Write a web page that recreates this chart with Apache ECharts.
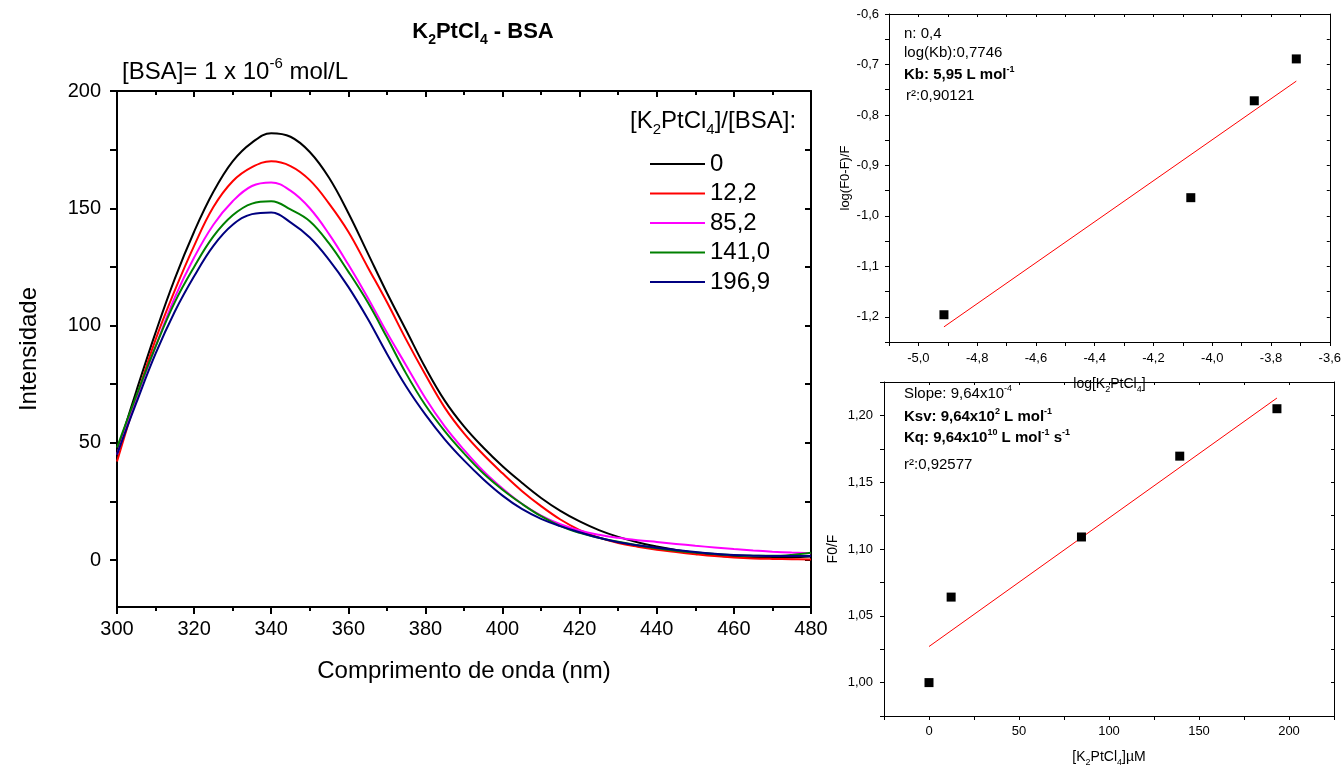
<!DOCTYPE html>
<html><head><meta charset="utf-8">
<script src="https://cdn.jsdelivr.net/npm/echarts@6/dist/echarts.min.js"></script>
<style>html,body{margin:0;padding:0;background:#fff}#c{width:1344px;height:769px}</style>
</head><body><div id="c"></div>
<script>
// ---------- data ----------
const wavelength = [300,305,310,315,320,325,330,335,340,345,350,355,360,365,370,375,380,385,390,395,400,405,410,415,420,425,430,435,440,445,450,455,460,465,470,475,480];
const ratioLabels = ['0','12,2','85,2','141,0','196,9'];
const intensity0    = [46,72,97,120,140,157,170,178,182,180.5,174,163,148,131,114,98,82,68,57,48,40,33,26.5,21,16.5,12.8,9.9,7.6,5.8,4.3,3.1,2.1,1.4,1,0.9,1.1,1.5];
const intensity122  = [42,69,94,115,134,150.5,161.5,167.5,170,168,162,152,140,125,110,94,79,65,54,45,37,29.5,23,17.3,12.8,9.6,7.3,5.7,4.4,3.4,2.5,1.7,1.1,0.7,0.5,0.4,0.3];
const intensity852  = [45,69,91,112,129,143,153,159.5,161,157.5,150,139,126,112,97,83,69,57,47,38,30.5,24,19,15.3,12.6,10.8,9.5,8.5,7.7,6.9,6.1,5.4,4.7,4.1,3.6,3.2,2.9];
const intensity1410 = [48,70,91,110,125,138,147,152,153,149.5,144.5,135,123,110,95,79.5,66,55,45.5,37,30,24,18.7,14.5,11.6,9.5,7.8,6.3,5,4,3.2,2.6,2.1,1.8,1.8,2.2,3.1];
const intensity1969 = [45,67,88,106,121,134,143,147.5,148.2,144,137.5,128,116.5,103,88,74,62,51.5,42.5,34.5,27.5,21.8,17.6,14.5,11.9,9.5,7.6,6.3,5.3,4.3,3.4,2.7,2.2,1.9,1.7,1.7,1.7];
const seriesColors = ['#000000','#ff0000','#ff00ff','#008000','#000080'];

const logConc = [-4.913,-4.073,-3.857,-3.714];
const logQuench = [-1.196,-0.964,-0.772,-0.689];
const fitLogX = [-4.913,-3.714];
const fitLogY = [-1.220,-0.733];

const concUM = [0,12.3,84.7,139.3,193.3];
const f0OverF = [1.000,1.064,1.109,1.1695,1.205];
const fitConcX = [0,193.3];
const fitF0F = [1.027,1.213];

const mainYLabels = [0,50,100,150,200];
const mainYTicks = [0,25,50,75,100,125,150,175,200];

// ---------- helpers ----------
const FONT = "'Liberation Sans', Arial, Helvetica, sans-serif";
function richFor(size, bold, graphic){
  const w = bold ? 'bold' : 'normal';
  const s = Math.round(size*0.62);
  const base = {fontSize:s, lineHeight:Math.round(size*0.8), fontWeight:w, fontFamily:FONT};
  if (graphic) base.fill = '#000'; else base.color = '#000';
  return {sup:Object.assign({verticalAlign:'top'}, base), sub:Object.assign({verticalAlign:'bottom'}, base)};
}
function gText(x, y, text, size, bold, align){
  return {type:'text', x:x, y:y, z:100,
    style:{text:text, fontSize:size, fontWeight:bold?'bold':'normal', fontFamily:FONT, fill:'#000',
      align:align||'left', textAlign:align||'left', verticalAlign:'middle', textVerticalAlign:'middle',
      lineHeight:Math.round(size*1.35), rich:richFor(size,bold,true)}};
}
const comma = (v,d)=>v.toFixed(d).replace('.',',');

// ---------- axes ----------
const xAxes = [], yAxes = [];
// main chart (grid 0)
xAxes.push({gridIndex:0, type:'value', min:300, max:480, interval:20, position:'bottom',
  axisLine:{onZero:false, lineStyle:{color:'#000', width:2}},
  axisTick:{length:7, lineStyle:{color:'#000', width:2}},
  minorTick:{show:true, splitNumber:2, length:4, lineStyle:{color:'#000', width:2}},
  axisLabel:{fontSize:20, color:'#000', fontFamily:FONT, margin:12},
  splitLine:{show:false},
  name:'Comprimento de onda (nm)', nameLocation:'middle', nameGap:52,
  nameTextStyle:{fontSize:24, color:'#000', fontFamily:FONT}});
xAxes.push({gridIndex:0, type:'value', min:300, max:480, interval:20, position:'top',
  axisLine:{onZero:false, lineStyle:{color:'#000', width:2}},
  axisTick:{inside:true, length:6, lineStyle:{color:'#000', width:2}},
  minorTick:{show:true, splitNumber:2, length:4, lineStyle:{color:'#000', width:2}},
  axisLabel:{show:false}, splitLine:{show:false}});
yAxes.push({gridIndex:0, type:'value', min:-20, max:200, position:'left',
  axisLine:{onZero:false, lineStyle:{color:'#000', width:2}},
  axisTick:{length:7, customValues:mainYTicks, lineStyle:{color:'#000', width:2}},
  axisLabel:{customValues:mainYLabels, fontSize:20, color:'#000', fontFamily:FONT, margin:16},
  splitLine:{show:false},
  name:'Intensidade', nameLocation:'middle', nameGap:76,
  nameTextStyle:{fontSize:24, color:'#000', fontFamily:FONT}});
yAxes.push({gridIndex:0, type:'value', min:-20, max:200, position:'right',
  axisLine:{onZero:false, lineStyle:{color:'#000', width:2}},
  axisTick:{inside:true, length:6, customValues:mainYTicks, lineStyle:{color:'#000', width:2}},
  axisLabel:{show:false}, splitLine:{show:false}});

// top-right panel (grid 1)
const tickFmtLog = v => (Math.round(v*10) % 2 === 0) ? comma(v,1) : '';
xAxes.push({gridIndex:1, type:'value', min:-5.1, max:-3.6, interval:0.1, position:'bottom',
  axisLine:{onZero:false, lineStyle:{color:'#000', width:1}},
  axisTick:{length:4, lineStyle:{color:'#000'}},
  axisLabel:{fontSize:13, color:'#000', fontFamily:FONT, margin:10, formatter:tickFmtLog, showMinLabel:true, showMaxLabel:true, hideOverlap:false},
  splitLine:{show:false},
  name:'log[K{sub|2}PtCl{sub|4}]', nameLocation:'middle', nameGap:33,
  nameTextStyle:{fontSize:14, color:'#000', fontFamily:FONT, lineHeight:19, rich:richFor(14,false,false)}});
xAxes.push({gridIndex:1, type:'value', min:-5.1, max:-3.6, interval:0.1, position:'top',
  axisLine:{onZero:false, lineStyle:{color:'#000', width:1}},
  axisTick:{inside:true, length:3, lineStyle:{color:'#000'}},
  axisLabel:{show:false}, splitLine:{show:false}});
yAxes.push({gridIndex:1, type:'value', min:-1.25, max:-0.6, interval:0.05, position:'left',
  axisLine:{onZero:false, lineStyle:{color:'#000', width:1}},
  axisTick:{length:4, lineStyle:{color:'#000'}},
  axisLabel:{fontSize:13, color:'#000', fontFamily:FONT, margin:10, showMinLabel:true, showMaxLabel:true,
    formatter: v => (Math.round(v*100) % 10 === 0) ? comma(v,1) : ''},
  splitLine:{show:false},
  name:'log(F0-F)/F', nameLocation:'middle', nameGap:37,
  nameTextStyle:{fontSize:13, color:'#000', fontFamily:FONT}});
yAxes.push({gridIndex:1, type:'value', min:-1.25, max:-0.6, interval:0.05, position:'right',
  axisLine:{onZero:false, lineStyle:{color:'#000', width:1}},
  axisTick:{inside:true, length:3, lineStyle:{color:'#000'}},
  axisLabel:{show:false}, splitLine:{show:false}});

// bottom-right panel (grid 2)
xAxes.push({gridIndex:2, type:'value', min:-25, max:225, interval:25, position:'bottom',
  axisLine:{onZero:false, lineStyle:{color:'#000', width:1}},
  axisTick:{length:4, lineStyle:{color:'#000'}},
  axisLabel:{fontSize:13, color:'#000', fontFamily:FONT, margin:9,
    formatter: v => (Math.round(v) % 50 === 0) ? String(Math.round(v)) : ''},
  splitLine:{show:false},
  name:'[K{sub|2}PtCl{sub|4}]µM', nameLocation:'middle', nameGap:32,
  nameTextStyle:{fontSize:14, color:'#000', fontFamily:FONT, lineHeight:19, rich:richFor(14,false,false)}});
xAxes.push({gridIndex:2, type:'value', min:-25, max:225, interval:25, position:'top',
  axisLine:{onZero:false, lineStyle:{color:'#000', width:1}},
  axisTick:{inside:true, length:3, lineStyle:{color:'#000'}},
  axisLabel:{show:false}, splitLine:{show:false}});
yAxes.push({gridIndex:2, type:'value', min:0.975, max:1.225, interval:0.025, position:'left',
  axisLine:{onZero:false, lineStyle:{color:'#000', width:1}},
  axisTick:{length:4, lineStyle:{color:'#000'}},
  axisLabel:{fontSize:13, color:'#000', fontFamily:FONT, margin:11,
    formatter: v => (Math.round(v*1000) % 50 === 0) ? comma(v,2) : ''},
  splitLine:{show:false},
  name:'F0/F', nameLocation:'middle', nameGap:44,
  nameTextStyle:{fontSize:14, color:'#000', fontFamily:FONT}});
yAxes.push({gridIndex:2, type:'value', min:0.975, max:1.225, interval:0.025, position:'right',
  axisLine:{onZero:false, lineStyle:{color:'#000', width:1}},
  axisTick:{inside:true, length:3, lineStyle:{color:'#000'}},
  axisLabel:{show:false}, splitLine:{show:false}});

// ---------- series ----------
const spectra = [intensity0, intensity122, intensity852, intensity1410, intensity1969];
const series = spectra.map((arr,i)=>({
  name:ratioLabels[i], type:'line', xAxisIndex:0, yAxisIndex:0,
  data: wavelength.map((w,j)=>[w, arr[j]]),
  showSymbol:false, symbol:'none', smooth:0.4, z:5+i,
  color:seriesColors[i], lineStyle:{color:seriesColors[i], width:2}
}));
series.push({type:'line', xAxisIndex:2, yAxisIndex:2, data:fitLogX.map((x,i)=>[x,fitLogY[i]]),
  symbol:'none', color:'#ff0000', lineStyle:{color:'#ff0000', width:1}, z:2});
series.push({type:'scatter', xAxisIndex:2, yAxisIndex:2, data:logConc.map((x,i)=>[x,logQuench[i]]),
  symbol:'rect', symbolSize:9, itemStyle:{color:'#000', opacity:1}, z:3});
series.push({type:'line', xAxisIndex:4, yAxisIndex:4, data:fitConcX.map((x,i)=>[x,fitF0F[i]]),
  symbol:'none', color:'#ff0000', lineStyle:{color:'#ff0000', width:1}, z:2});
series.push({type:'scatter', xAxisIndex:4, yAxisIndex:4, data:concUM.map((x,i)=>[x,f0OverF[i]]),
  symbol:'rect', symbolSize:9, itemStyle:{color:'#000', opacity:1}, z:3});

const option = {
  animation:false,
  backgroundColor:'#ffffff',
  textStyle:{fontFamily:FONT},
  grid:[
    {left:117, right:533, top:91, bottom:162},
    {left:889, right:12, top:14, bottom:427},
    {left:884, right:10, top:382, bottom:53}
  ],
  xAxis:xAxes, yAxis:yAxes,
  legend:{data:ratioLabels.map((n,i)=>({name:n, icon:'rect', itemStyle:{color:seriesColors[i]}})),
    orient:'vertical', left:645, top:147, itemWidth:55, itemHeight:2, itemGap:5.5,
    textStyle:{fontSize:24, color:'#000', fontFamily:FONT}, selectedMode:false},
  series:series,
  graphic:[
    gText(483, 32, 'K{sub|2}PtCl{sub|4} - BSA', 22, true, 'center'),
    gText(122, 72, '[BSA]= 1 x 10{sup|-6} mol/L', 24, false, 'left'),
    gText(630, 121, '[K{sub|2}PtCl{sub|4}]/[BSA]:', 24, false, 'left'),
    gText(904, 34, 'n: 0,4', 15, false, 'left'),
    gText(904, 53, 'log(Kb):0,7746', 15, false, 'left'),
    gText(904, 75, 'Kb: 5,95 L mol{sup|-1}', 15, true, 'left'),
    gText(906, 96, 'r²:0,90121', 15, false, 'left'),
    gText(904, 394, 'Slope: 9,64x10{sup|-4}', 15, false, 'left'),
    gText(904, 417, 'Ksv: 9,64x10{sup|2} L mol{sup|-1}', 15, true, 'left'),
    gText(904, 438, 'Kq: 9,64x10{sup|10} L mol{sup|-1} s{sup|-1}', 15, true, 'left'),
    gText(904, 465, 'r²:0,92577', 15, false, 'left')
  ]
};
const chart = echarts.init(document.getElementById('c'), null, {renderer:'canvas'});
chart.setOption(option);
</script></body></html>
